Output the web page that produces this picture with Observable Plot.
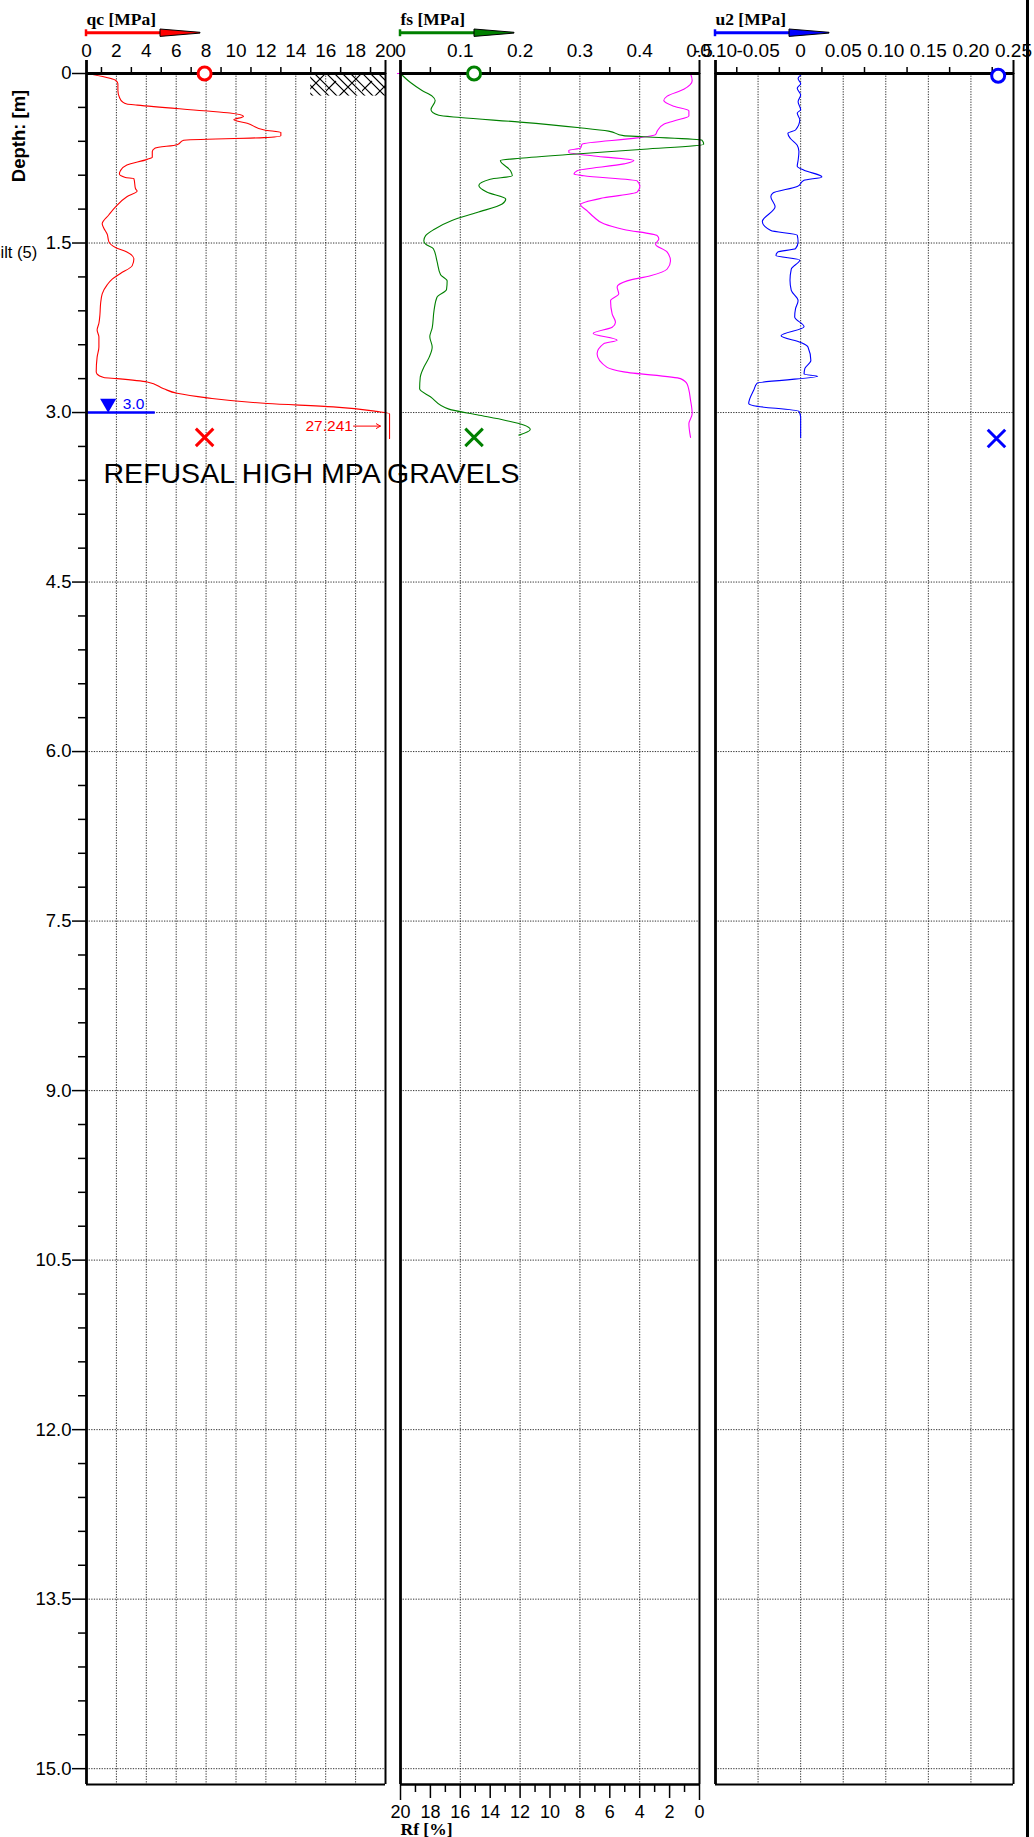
<!DOCTYPE html>
<html>
<head>
<meta charset="utf-8">
<script src="https://cdn.jsdelivr.net/npm/d3@7"></script>
<script src="https://cdn.jsdelivr.net/npm/@observablehq/plot@0.6"></script>
<style>
html, body { margin: 0; padding: 0; background: #fff; }
#chart { position: relative; width: 1034px; height: 1837px; overflow: hidden; background: #fff; }
#chart svg { position: absolute; top: 0; }
#edge { position: absolute; left: 1025.5px; top: 0; width: 3px; height: 1837px; background: #000; }
</style>
</head>
<body>
<div id="chart"><div id="edge"></div></div>
<script>
// ---------------- DATA ----------------
// Cone resistance qc [MPa] vs depth [m]
const qcDepth = [0.00,0.06,0.09,0.15,0.21,0.25,0.27,0.28,0.33,0.35,0.38,0.41,0.44,0.50,0.52,0.55,0.567,0.59,0.63,0.66,0.69,0.74,0.76,0.81,0.86,0.89,0.92,0.93,1.02,1.04,1.09,1.18,1.25,1.33,1.37,1.42,1.49,1.54,1.58,1.64,1.70,1.77,1.82,1.87,1.95,2.04,2.13,2.21,2.27,2.33,2.42,2.51,2.64,2.66,2.69,2.70,2.73,2.79,2.83,2.87,2.92,2.95,2.99,3.01,3.04,3.08,3.13,3.18,3.23];
const qcValue = [0,1.94,2.10,2.10,2.20,2.40,2.70,3.40,7.85,9.60,10.50,9.85,10.75,11.90,13.00,13.00,11.86,6.50,6.06,4.60,4.40,4.40,4.06,2.70,2.27,2.20,2.60,3.17,3.28,3.39,2.70,1.94,1.50,1.05,1.16,1.38,1.50,1.94,2.70,3.17,3.06,2.27,1.72,1.38,1.05,0.94,0.90,0.83,0.71,0.83,0.83,0.71,0.65,0.71,1.16,2.05,4.06,5.17,6.06,8.07,12.10,16.50,19.40,21.5,24.8,27.241,26.4,25.1,24.0];

// Sleeve friction fs [MPa]
const fsDepth = [0,0.08,0.15,0.20,0.24,0.32,0.37,0.39,0.43,0.48,0.51,0.55,0.56,0.59,0.625,0.67,0.71,0.75,0.77,0.86,0.905,0.935,0.99,1.05,1.11,1.155,1.23,1.30,1.38,1.435,1.48,1.51,1.55,1.66,1.78,1.835,1.91,1.98,2.10,2.25,2.33,2.42,2.51,2.60,2.69,2.79,2.86,2.97,3.02,3.07,3.11,3.15,3.20];
const fsValue = [0,0.0167,0.036,0.053,0.058,0.051,0.064,0.10,0.20,0.30,0.348,0.373,0.407,0.504,0.507,0.407,0.30,0.20,0.167,0.184,0.187,0.15,0.131,0.145,0.176,0.17,0.128,0.086,0.056,0.042,0.039,0.042,0.055,0.061,0.067,0.078,0.077,0.061,0.056,0.053,0.049,0.053,0.048,0.039,0.033,0.032,0.05,0.081,0.128,0.176,0.206,0.217,0.198];

// Friction ratio Rf [%]
const rfDepth = [0,0.005,0.065,0.14,0.20,0.24,0.29,0.33,0.375,0.42,0.45,0.51,0.54,0.57,0.625,0.66,0.68,0.70,0.73,0.77,0.80,0.86,0.89,0.905,0.95,1.00,1.05,1.10,1.16,1.215,1.27,1.33,1.38,1.435,1.465,1.51,1.58,1.66,1.73,1.79,1.835,1.89,1.95,2.01,2.13,2.20,2.245,2.30,2.36,2.39,2.48,2.60,2.64,2.70,2.75,2.89,3.01,3.10,3.22];
const rfValue = [20.2,0.6,0.49,1.05,2.16,2.39,1.72,0.71,0.71,1.72,2.39,2.83,2.94,4.17,7.85,7.96,8.74,8.74,7.07,4.39,5.06,8.18,8.40,7.74,4.17,3.99,4.17,6.40,7.96,7.51,7.07,6.40,5.06,2.83,2.72,2.94,2.16,1.94,2.16,3.28,4.84,5.51,5.40,5.95,5.84,5.62,5.84,7.11,5.51,6.40,6.85,6.18,5.06,1.27,0.82,0.60,0.49,0.71,0.60];

// Pore pressure u2 [MPa]
const u2Depth = [0.015,0.044,0.09,0.13,0.19,0.25,0.32,0.35,0.41,0.50,0.53,0.575,0.635,0.69,0.77,0.82,0.856,0.915,0.945,1.00,1.06,1.09,1.18,1.31,1.39,1.43,1.49,1.55,1.58,1.61,1.65,1.73,1.83,1.92,2.01,2.08,2.155,2.24,2.32,2.38,2.42,2.54,2.61,2.66,2.68,2.74,2.80,2.92,2.94,2.99,3.04,3.22];
const u2Value = [0,-0.003,0,-0.004,0,-0.003,0,-0.004,-0.001,-0.006,-0.015,-0.012,-0.004,-0.002,-0.003,-0.004,0.004,0.025,0.004,-0.004,-0.033,-0.035,-0.030,-0.045,-0.035,-0.004,-0.003,-0.006,-0.027,-0.029,-0.001,-0.011,-0.0125,-0.011,-0.003,-0.006,-0.007,0.004,-0.023,0,0.0086,0.012,0.005,0.004,0.020,-0.051,-0.055,-0.061,-0.055,-0.002,0,0];

// Start (circle) and end (cross) markers
const qcMarks = [{v: 7.9, depth: 0, symbol: "circle"}, {v: 7.9, depth: 3.22, symbol: "times"}];
const fsMarks = [{v: 0.123, depth: 0, symbol: "circle"}, {v: 0.123, depth: 3.22, symbol: "times"}];
const u2Marks = [{v: 0.232, depth: 0.02, symbol: "circle"}, {v: 0.230, depth: 3.23, symbol: "times"}];

// Water level, soil layer, annotations
const water = [{depth: 3.0, lineTo: 4.6, symbolAt: 1.45, labelAt: 2.43}];
const hatchLayer = [{from: 15, to: 20, top: 0, bottom: 0.2}];
const soilLabels = [{label: "Silt (5)", depth: 1.59}];
const offscale = [{label: "27.241", depth: 3.12, textAt: 17.82, arrowFrom: 17.86, arrowTo: 19.66}];
const notes = [{label: "REFUSAL HIGH MPA GRAVELS", v: 1.14, depth: 3.625}];

// Axis ticks / labels
const depthLabels = [0,1.5,3,4.5,6,7.5,9,10.5,12,13.5,15];
const depthMinor = [0.3,0.6,0.9,1.2,1.8,2.1,2.4,2.7,3.3,3.6,3.9,4.2,4.8,5.1,5.4,5.7,6.3,6.6,6.9,7.2,7.8,8.1,8.4,8.7,9.3,9.6,9.9,10.2,10.8,11.1,11.4,11.7,12.3,12.6,12.9,13.2,13.8,14.1,14.4,14.7];
const depthGrid = [1.5,3,4.5,6,7.5,9,10.5,12,13.5,15];
const qcLabels = [0,2,4,6,8,10,12,14,16,18,20];
const qcMinor = [1,3,5,7,9,11,13,15,17,19];
const qcGrid = [2,4,6,8,10,12,14,16,18];
const fsLabels = [0,0.1,0.2,0.3,0.4,0.5];
const fsMinor = [0.05,0.15,0.25,0.35,0.45];
const fsGrid = [0.1,0.2,0.3,0.4];
const rfLabels = [20,18,16,14,12,10,8,6,4,2,0];
const rfMinor = [19,17,15,13,11,9,7,5,3,1];
const u2Labels = [-0.10,-0.05,0,0.05,0.10,0.15,0.20,0.25];
const u2Minor = [-0.075,-0.025,0.025,0.075,0.125,0.175,0.225];
const u2Grid = [-0.05,0,0.05,0.10,0.15,0.20];

// ---------------- CHART ----------------
const rows = (ds, vs) => ds.map((d, i) => ({depth: d, v: vs[i]}));
const qcRows = rows(qcDepth, qcValue), fsRows = rows(fsDepth, fsValue),
      rfRows = rows(rfDepth, rfValue), u2Rows = rows(u2Depth, u2Value);

const H = 1837, MT = 73, MB = 53, depthMax = 15.14;
const FONT = "'Liberation Sans', Arial, Helvetica, sans-serif";
const SERIF = "'Liberation Serif', 'Times New Roman', serif";
const gridStyle = {stroke: "#000", strokeOpacity: 0.8, strokeWidth: 1, strokeDasharray: "1.3,1.3"};
const RED = "#ff0000", GREEN = "#008000", MAGENTA = "#ff00ff", BLUE = "#0000ff";
const CURVE = "monotone-y";
const chart = document.getElementById("chart");

const downTriangle = {draw(ctx, size) {
  const y = Math.sqrt(size / (3 * Math.sqrt(3)));
  ctx.moveTo(0, 2 * y); ctx.lineTo(-Math.sqrt(3) * y, -y); ctx.lineTo(Math.sqrt(3) * y, -y); ctx.closePath();
}};

function framing(xDomain, bottomWidth = 2) {
  return [
    Plot.ruleY([0], {stroke: "#000", strokeWidth: 3}),
    Plot.ruleY([depthMax], {stroke: "#000", strokeWidth: bottomWidth}),
    Plot.ruleX([xDomain[0]], {stroke: "#000", strokeWidth: 2.8}),
    Plot.ruleX([xDomain[1]], {stroke: "#000", strokeWidth: 2}),
    Plot.axisX([xDomain[0]], {anchor: "top", tickSize: 14, strokeWidth: 2.8, fill: "none", label: null}),
    Plot.axisX([xDomain[1]], {anchor: "top", tickSize: 14, strokeWidth: 2, fill: "none", label: null})
  ];
}
function topAxis(labels, minor, fmt) {
  return [
    Plot.axisX(minor, {anchor: "top", tickSize: 7, strokeWidth: 1.5, fill: "none", label: null}),
    Plot.axisX(labels, {anchor: "top", tickSize: 0, tickPadding: 17, tickFormat: fmt, fontSize: 19, fill: "#000", label: null})
  ];
}
function title(t) {
  return Plot.text([t], {frameAnchor: "top-left", dy: -49, text: d => d, textAnchor: "start", lineAnchor: "bottom",
    fontFamily: SERIF, fontWeight: "bold", fontSize: 17.5, fill: "#000"});
}
function markers(data, color) {
  return [
    Plot.dot(data.filter(d => d.symbol === "circle"), {x: "v", y: "depth", symbol: "circle", r: 6.5, stroke: color, strokeWidth: 3, fill: "#fff"}),
    Plot.dot(data.filter(d => d.symbol === "times"), {x: "v", y: "depth", symbol: "times", r: 8, stroke: color, strokeWidth: 3})
  ];
}
function panel(left, width, mLeft, mRight, xDomain, marks) {
  const svg = Plot.plot({
    width, height: H, marginLeft: mLeft, marginRight: mRight, marginTop: MT, marginBottom: MB,
    x: {domain: xDomain, axis: null},
    y: {domain: [0, depthMax], reverse: true, axis: null},
    style: {background: "transparent", overflow: "visible", fontFamily: FONT, fontSize: "19px", color: "#000"},
    marks
  });
  svg.style.left = left + "px";
  svg.style.maxWidth = "none";
  chart.appendChild(svg);
  return svg;
}
function titleArrow(svg, x0, color) {
  const g = d3.select(svg).append("g");
  g.append("line").attr("x1", x0).attr("x2", x0 + 76).attr("y1", 32.7).attr("y2", 32.7).attr("stroke", color).attr("stroke-width", 3);
  g.append("line").attr("x1", x0).attr("x2", x0).attr("y1", 29.3).attr("y2", 36.2).attr("stroke", color).attr("stroke-width", 2.5);
  g.append("path").attr("d", `M${x0 + 74},29L${x0 + 114},32.3L${x0 + 114},33.1L${x0 + 74},36.4Z`)
    .attr("fill", color).attr("stroke", "#000").attr("stroke-width", 1);
}

// Panel 1: qc
const qcDomain = [0, 20], qcClip = 20.27;
const p1 = panel(0, 400, 86, 15, qcDomain, [
  Plot.gridY(depthGrid, gridStyle),
  Plot.gridX(qcGrid, gridStyle),
  Plot.rect(hatchLayer, {x1: "from", x2: "to", y1: "top", y2: "bottom", fill: "url(#hatch)"}),
  Plot.line(qcRows, {x: d => Math.min(d.v, qcClip), y: "depth", stroke: RED, strokeWidth: 1.1, curve: CURVE}),
  Plot.ruleY(water, {y: "depth", x1: 0, x2: "lineTo", stroke: BLUE, strokeWidth: 2.5}),
  Plot.dot(water, {x: "symbolAt", y: "depth", symbol: downTriangle, r: 6, fill: BLUE, stroke: "none", dy: -9.2}),
  Plot.text(water, {x: "labelAt", y: "depth", text: d => d.depth.toFixed(1), fill: BLUE, textAnchor: "start", dy: -9, fontSize: 15.5}),
  Plot.text(offscale, {x: "textAt", y: "depth", text: "label", fill: RED, textAnchor: "end", fontSize: 15.5}),
  Plot.arrow(offscale, {x1: "arrowFrom", x2: "arrowTo", y1: "depth", y2: "depth", stroke: RED, strokeWidth: 1, headLength: 7}),
  Plot.text(soilLabels, {y: "depth", text: "label", frameAnchor: "left", textAnchor: "end", dx: -49.3, fontSize: 16.5, fill: "#000"}),
  ...framing(qcDomain),
  ...topAxis(qcLabels, qcMinor, d => String(d)),
  Plot.axisY(depthMinor, {anchor: "left", tickSize: 8, strokeWidth: 1.5, fill: "none", label: null}),
  Plot.axisY(depthLabels, {anchor: "left", tickSize: 14, tickPadding: 1, strokeWidth: 1.5, fontSize: 18.5, fill: "#000",
    tickFormat: d => d === 0 ? "0" : d.toFixed(1), label: null}),
  Plot.text(["Depth: [m]"], {frameAnchor: "top-left", text: d => d, rotate: -90, dx: -67.7, dy: 62.5,
    textAnchor: "middle", lineAnchor: "middle", fontWeight: "bold", fontSize: 18.5, fill: "#000"}),
  ...markers(qcMarks, RED),
  Plot.text(notes, {x: "v", y: "depth", text: "label", textAnchor: "start", lineAnchor: "bottom", fontSize: 28.5, fill: "#000"}),
  title("qc [MPa]")
]);
{
  const defs = d3.select(p1).insert("defs", ":first-child");
  const pat = defs.append("pattern").attr("id", "hatch").attr("patternUnits", "userSpaceOnUse")
    .attr("width", 36).attr("height", 36).attr("x", 2).attr("y", 73);
  let d = "";
  for (const c of [0, 8, 16, 24]) d += `M${c},0L${c + 36},36M${c - 36},0L${c},36`;
  d += "M0,36L36,0M-4,22L10,8";
  pat.append("path").attr("d", d).attr("stroke", "#000").attr("stroke-width", 1.2).attr("fill", "none");
}
titleArrow(p1, 86, RED);

// Panel 2: fs and Rf
const fsDomain = [0, 0.5];
const rfToX = r => 0.5 - r / 40;
const p2 = panel(385, 330, 15, 16, fsDomain, [
  Plot.gridY(depthGrid, gridStyle),
  Plot.gridX(fsGrid, gridStyle),
  Plot.line(rfRows, {x: d => rfToX(d.v), y: "depth", stroke: MAGENTA, strokeWidth: 1.1, curve: CURVE}),
  Plot.line(fsRows, {x: "v", y: "depth", stroke: GREEN, strokeWidth: 1.1, curve: CURVE}),
  ...framing(fsDomain, 2.6),
  ...topAxis(fsLabels, fsMinor, d => d === 0 ? "0" : d.toFixed(1)),
  Plot.axisX(rfMinor.map(rfToX), {anchor: "bottom", tickSize: 8, strokeWidth: 1.5, fill: "none", label: null}),
  Plot.axisX(rfLabels.filter(r => r !== 0 && r !== 20).map(rfToX), {anchor: "bottom", tickSize: 14, strokeWidth: 1.5, fill: "none", label: null}),
  Plot.axisX([rfToX(20), rfToX(0)], {anchor: "bottom", tickSize: 16, strokeWidth: 1.5, fill: "none", label: null}),
  Plot.axisX(rfLabels.map(rfToX), {anchor: "bottom", tickSize: 0, tickPadding: 21, fontSize: 18, fill: "#000",
    tickFormat: v => String(Math.round((0.5 - v) * 40)), label: null}),
  Plot.text(["Rf [%]"], {frameAnchor: "bottom-left", text: d => d, dy: 50, textAnchor: "start", lineAnchor: "bottom",
    fontFamily: SERIF, fontWeight: "bold", fontSize: 17.5, fill: "#000"}),
  ...markers(fsMarks, GREEN),
  title("fs [MPa]")
]);
titleArrow(p2, 15, GREEN);

// Panel 3: u2
const u2Domain = [-0.10, 0.25];
const p3 = panel(699, 335, 16, 21, u2Domain, [
  Plot.gridY(depthGrid, gridStyle),
  Plot.gridX(u2Grid, gridStyle),
  Plot.line(u2Rows, {x: "v", y: "depth", stroke: BLUE, strokeWidth: 1.1, curve: CURVE}),
  ...framing(u2Domain),
  ...topAxis(u2Labels, u2Minor, d => d === 0 ? "0" : (d < 0 ? "-" : "") + Math.abs(d).toFixed(2)),
  ...markers(u2Marks, BLUE),
  title("u2 [MPa]")
]);
titleArrow(p3, 16, BLUE);
</script>
</body>
</html>
